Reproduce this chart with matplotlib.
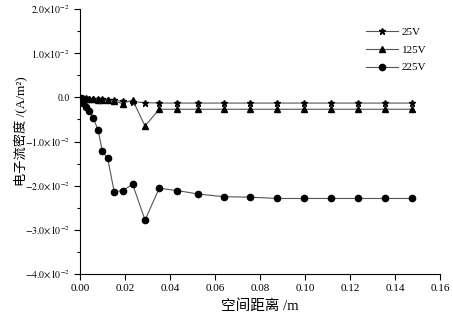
import matplotlib
matplotlib.use("Agg")
import matplotlib.pyplot as plt
from matplotlib.ticker import MultipleLocator, FuncFormatter

plt.rcParams['font.family'] = ['Liberation Serif', 'Noto Sans CJK SC']
plt.rcParams['mathtext.fontset'] = 'stix'

# distance (m) for each series
x_225 = [0.0004, 0.0015, 0.0027, 0.0041, 0.0059, 0.0081, 0.0099, 0.0123, 0.0152,
         0.0190, 0.0234, 0.0289, 0.0352, 0.0432, 0.0526, 0.0640, 0.0756, 0.0876,
         0.0996, 0.1116, 0.1236, 0.1356, 0.1476]
j_225 = [-0.0002, -0.0013, -0.0022, -0.0030, -0.0047, -0.0075, -0.0122, -0.0138, -0.0214,
         -0.0211, -0.0197, -0.0278, -0.0206, -0.0211, -0.0219, -0.0225, -0.0226, -0.0229,
         -0.0229, -0.0229, -0.0229, -0.0229, -0.0229]

x_25 = [0.0004, 0.0015, 0.0027, 0.0041, 0.0059, 0.0081, 0.0099, 0.0123, 0.0152,
        0.0190, 0.0234, 0.0289, 0.0352, 0.0432, 0.0526, 0.0640, 0.0756, 0.0876,
        0.0996, 0.1116, 0.1236, 0.1356, 0.1476]
j_25 = [-0.0001, -0.0002, -0.0002, -0.0003, -0.0003, -0.0004, -0.0004, -0.0005, -0.0007,
        -0.0009, -0.0010, -0.0012, -0.0013, -0.0013, -0.0013, -0.0013, -0.0013, -0.0013,
        -0.0013, -0.0013, -0.0013, -0.0013, -0.0013]

x_125 = [0.0004, 0.0015, 0.0027, 0.0041, 0.0059, 0.0081, 0.0099, 0.0123, 0.0152,
         0.0190, 0.0234, 0.0289, 0.0352, 0.0432, 0.0526, 0.0640, 0.0756, 0.0876,
         0.0996, 0.1116, 0.1236, 0.1356, 0.1476]
j_125 = [-0.0002, -0.0003, -0.0003, -0.0004, -0.0004, -0.0005, -0.0006, -0.0007, -0.0009,
         -0.0014, -0.0006, -0.0065, -0.0027, -0.0027, -0.0027, -0.0027, -0.0027, -0.0027,
         -0.0027, -0.0027, -0.0027, -0.0027, -0.0027]

line_col = '#555555'

fig = plt.figure(figsize=(4.53, 3.21), dpi=100)
ax = fig.add_axes([80/453, 1-274/321, 360/453, 265/321])

ax.plot(x_25, j_25, color=line_col, lw=0.8, marker='*', ms=5,
        mfc='black', mec='black', label='25V')
ax.plot(x_125, j_125, color=line_col, lw=0.8, marker='^', ms=4.5,
        mfc='black', mec='black', label='125V')
ax.plot(x_225, j_225, color=line_col, lw=0.8, marker='o', ms=4.5,
        mfc='black', mec='black', label='225V')

ax.set_xlim(0, 0.16)
ax.set_ylim(-0.04, 0.02)
ax.xaxis.set_major_locator(MultipleLocator(0.02))
ax.yaxis.set_major_locator(MultipleLocator(0.01))
ax.yaxis.set_minor_locator(MultipleLocator(0.005))


def yfmt(v, pos):
    m = v * 100
    if abs(m) < 1e-9:
        return '0.0'
    return r'$%.1f{\times}10^{-2}$' % m


ax.yaxis.set_major_formatter(FuncFormatter(yfmt))
ax.xaxis.set_major_formatter(FuncFormatter(lambda v, p: '%.2f' % v))

for s in ['top', 'right']:
    ax.spines[s].set_visible(False)
for s in ['left', 'bottom']:
    ax.spines[s].set_linewidth(0.8)
ax.tick_params(which='major', direction='out', length=4, width=0.8, labelsize=8)
ax.tick_params(axis='y', which='major', labelsize=7)
ax.tick_params(which='minor', direction='out', length=2.5, width=0.8)

ax.set_xlabel('空间距离 /m', fontsize=10.5, labelpad=4)
ax.set_ylabel('电子流密度 /(A/m²)', fontsize=9.5)
ax.yaxis.set_label_coords(-0.145, 0.54)

ax.legend(loc='upper left', bbox_to_anchor=(0.795, 0.93), frameon=False,
          fontsize=8, handlelength=2.9, labelspacing=0.7, handletextpad=0.3,
          borderpad=0, borderaxespad=0)

fig.savefig('out.png', dpi=100)
